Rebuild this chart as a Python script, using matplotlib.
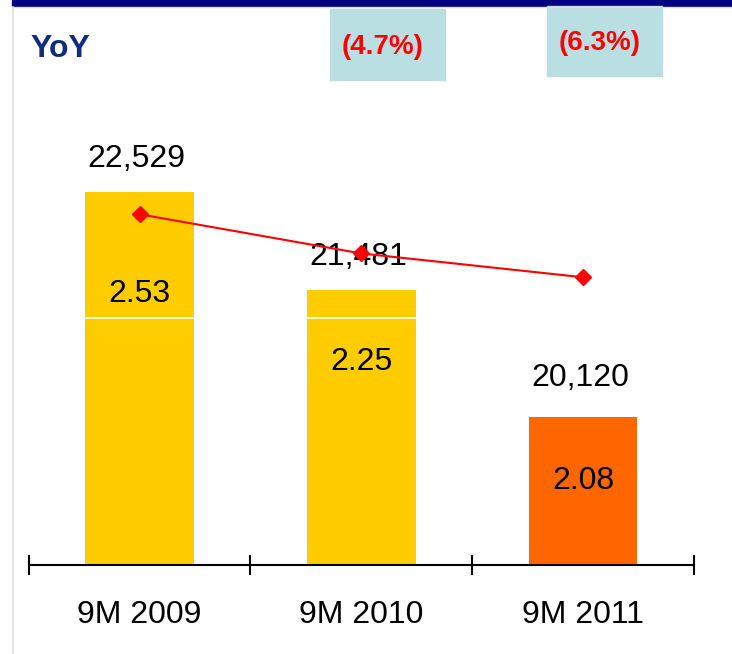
import matplotlib
matplotlib.use("Agg")
import matplotlib.pyplot as plt
from matplotlib.patches import Rectangle
from matplotlib.lines import Line2D

plt.rcParams['font.family'] = ['Liberation Sans', 'DejaVu Sans']

# data
categories = ["9M 2009", "9M 2010", "9M 2011"]
volumes = [22529, 21481, 20120]
volume_labels = ["22,529", "21,481", "20,120"]
per_unit = [2.53, 2.25, 2.08]
yoy_labels = ["(4.7%)", "(6.3%)"]

bar_colors = ["#FFCC00", "#FFCC00", "#FF6600"]
W, H = 732, 654

fig = plt.figure(figsize=(W / 100, H / 100), dpi=100)

# main axes box (pixel coords from the reference)
left, right, bottom, top = 28.7, 694, 565, 100
ax = fig.add_axes([left / W, 1 - bottom / H, (right - left) / W, (bottom - top) / H])

x = list(range(len(categories)))
ax.bar(x, volumes, width=0.49, color=bar_colors, zorder=2)
ax.set_xlim(-0.5, 2.5)
ax.set_ylim(18530, 23515)
ax.axhline(21180, color="white", lw=1.2, zorder=3)

for s in ["top", "left", "right"]:
    ax.spines[s].set_visible(False)
ax.spines["bottom"].set_linewidth(1.5)
ax.spines["bottom"].set_color("black")
ax.set_yticks([])

# boundary ticks, category labels in between
ax.set_xticks([-0.5, 0.5, 1.5, 2.5])
ax.set_xticklabels([])
ax.tick_params(axis="x", which="major", direction="inout", length=15, width=1.5, color="black")
ax.set_xticks(x, minor=True)
ax.set_xticklabels(categories, minor=True, fontsize=23)
ax.tick_params(axis="x", which="minor", length=0, pad=25)

top_offsets = [18, 18, 22]
inner_offsets = [79, 58, 52]
for i in x:
    ax.annotate(volume_labels[i], (i, volumes[i]), xytext=(-2, top_offsets[i]),
                textcoords="offset points", ha="center", va="baseline", fontsize=23, zorder=5)
    ax.annotate(f"{per_unit[i]:.2f}", (i, volumes[i]), xytext=(0, -inner_offsets[i]),
                textcoords="offset points", ha="center", va="baseline", fontsize=23, zorder=5)

# per-unit trend on a hidden secondary axis
ax2 = ax.twinx()
ax2.plot(x, per_unit, color="red", lw=1.5, marker="D", markersize=8.5, zorder=4)
ax2.set_ylim(0.025, 3.346)
ax2.set_axis_off()

# header decorations
fig.patches.append(Rectangle((11.7 / W, 1 - 5.7 / H), 1, 5.7 / H, transform=fig.transFigure,
                             color="#000080", zorder=1))
fig.lines.append(Line2D([13.3 / W, 1], [1 - 6.7 / H] * 2, transform=fig.transFigure,
                        color="#dddddd", lw=1))
fig.lines.append(Line2D([13.3 / W] * 2, [0, 1 - 6.7 / H], transform=fig.transFigure,
                        color="#dddddd", lw=1.2))

boxes = [(330, 9, 445, 80), (547, 6, 662, 75.7)]
text_pos = [(382.5, 54), (599.5, 49.5)]
for (x0, y0, x1, y1), (tx, ty), lab in zip(boxes, text_pos, yoy_labels):
    fig.patches.append(Rectangle((x0 / W, 1 - y1 / H), (x1 - x0) / W, (y1 - y0) / H,
                                 transform=fig.transFigure, color="#BADFE3", zorder=1))
    fig.text(tx / W, 1 - ty / H, lab, ha="center", va="baseline", fontsize=20,
             fontweight="bold", color="red")

fig.text(30 / W, 1 - 57 / H, "YoY", ha="left", va="baseline", fontsize=23,
         fontweight="bold", color="#102C82")

fig.savefig("out.png", dpi=100)
